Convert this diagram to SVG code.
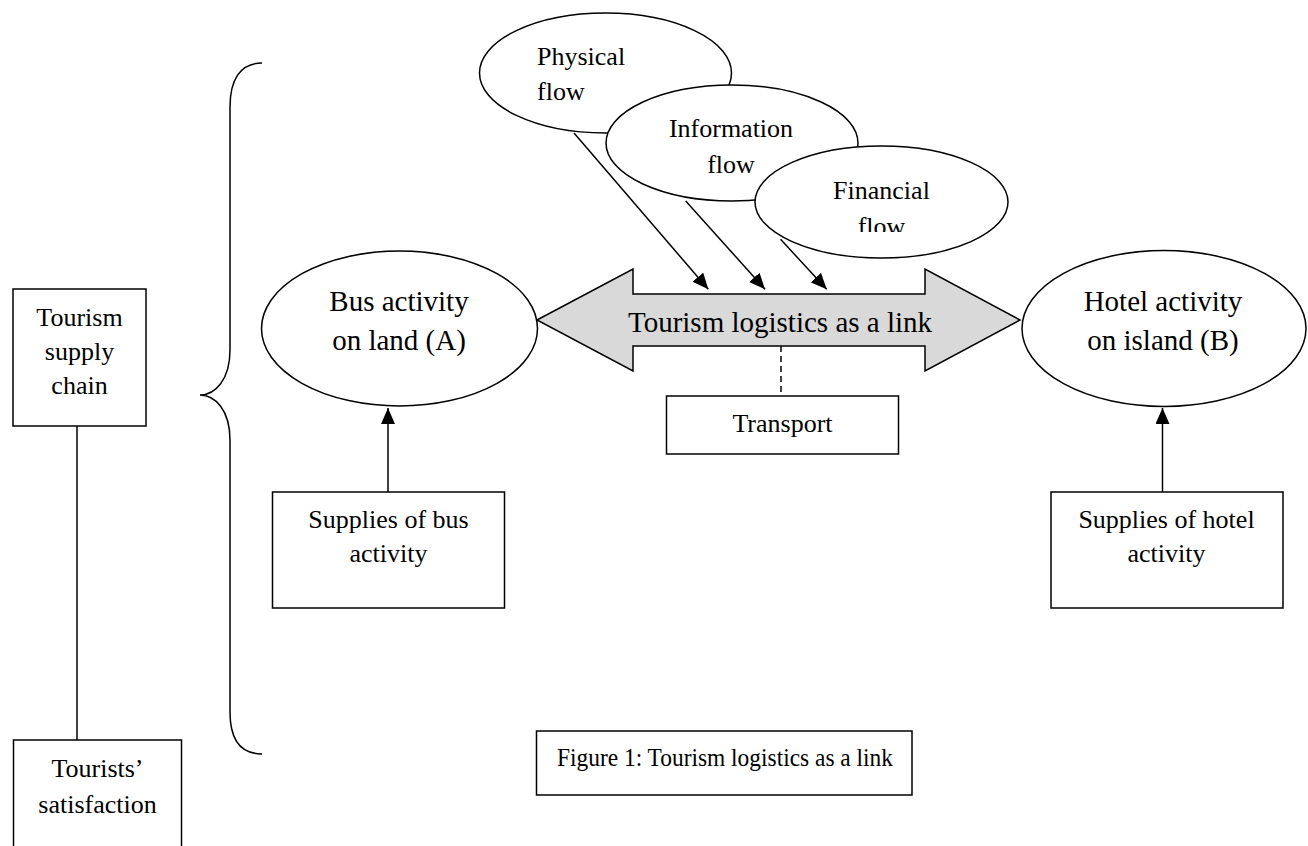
<svg xmlns="http://www.w3.org/2000/svg" width="1308" height="846" viewBox="0 0 1308 846">
<style>
.s{fill:#fff;stroke:#000;stroke-width:1.5}
.t{font-family:"Liberation Serif","Times New Roman",serif;fill:#000}
.c{text-anchor:middle}
.ln{stroke:#000;stroke-width:1.5;fill:none}
</style>
<defs>
<marker id="ah" markerUnits="userSpaceOnUse" markerWidth="16" markerHeight="14" refX="16" refY="7" orient="auto">
<path d="M0,0 L16,7 L0,14 z" fill="#000"/>
</marker>
<clipPath id="finclip"><rect x="700" y="140" width="320" height="92"/></clipPath>
</defs>
<rect width="1308" height="846" fill="#fff"/>

<g id="brace">
<path class="ln" d="M262 63 C240 63 230 80 230 107 L230 350 C230 380 215 395 200 395 C215 395 230 410 230 440 L230 712 C230 740 240 754 262 754"/>
</g>

<g id="supply-chain">
<rect class="s" x="13" y="289" width="133" height="137"/>
<text class="t c" font-size="26" x="79.5" y="326">Tourism</text>
<text class="t c" font-size="26" x="79.5" y="360">supply</text>
<text class="t c" font-size="26" x="79.5" y="394">chain</text>
</g>

<g id="satisfaction">
<rect class="s" x="13.5" y="740" width="168" height="120"/>
<text class="t c" font-size="26" x="97.5" y="777">Tourists’</text>
<text class="t c" font-size="26" x="97.5" y="813">satisfaction</text>
</g>

<g id="physical">
<ellipse class="s" cx="605.5" cy="73" rx="126" ry="60"/>
<text class="t" font-size="26" x="537" y="65">Physical</text>
<text class="t" font-size="26" x="537" y="100">flow</text>
</g>
<g id="information">
<ellipse class="s" cx="732" cy="143" rx="126" ry="58"/>
<text class="t c" font-size="26" x="731" y="137">Information</text>
<text class="t c" font-size="26" x="731" y="173">flow</text>
</g>
<g id="financial">
<ellipse class="s" cx="881.5" cy="202" rx="126.5" ry="56"/>
<text class="t c" font-size="26" x="881.5" y="199">Financial</text>
<text class="t c" font-size="26" x="881.5" y="235" clip-path="url(#finclip)">flow</text>
</g>

<g id="bus">
<ellipse class="s" cx="399.5" cy="328.5" rx="138" ry="77.5"/>
<text class="t c" font-size="29" x="399" y="311">Bus activity</text>
<text class="t c" font-size="29" x="399" y="350">on land (A)</text>
</g>
<g id="hotel">
<ellipse class="s" cx="1164" cy="328.5" rx="142" ry="78"/>
<text class="t c" font-size="29" x="1163" y="311">Hotel activity</text>
<text class="t c" font-size="29" x="1163" y="350">on island (B)</text>
</g>

<g id="link">
<path d="M537 320 L633 269 L633 294 L925 294 L925 269 L1020 320 L925 371 L925 346 L633 346 L633 371 Z" fill="#d9d9d9" stroke="#000" stroke-width="1.5" stroke-linejoin="miter"/>
<text class="t c" font-size="29" x="780" y="332">Tourism logistics as a link</text>
</g>

<g id="transport">
<rect class="s" x="666.5" y="396" width="232" height="58"/>
<text class="t c" font-size="26" x="782.5" y="432">Transport</text>
</g>

<g id="supplies-bus">
<rect class="s" x="272.5" y="492" width="232" height="116"/>
<text class="t c" font-size="26" x="388.5" y="528">Supplies of bus</text>
<text class="t c" font-size="26" x="388.5" y="562">activity</text>
</g>
<g id="supplies-hotel">
<rect class="s" x="1051" y="492" width="232" height="116"/>
<text class="t c" font-size="26" x="1166.5" y="528">Supplies of hotel</text>
<text class="t c" font-size="26" x="1166.5" y="562">activity</text>
</g>

<g id="caption">
<rect class="s" x="536.5" y="731" width="375.5" height="64"/>
<text class="t" font-size="26" x="557" y="766" textLength="336" lengthAdjust="spacingAndGlyphs">Figure 1: Tourism logistics as a link</text>
</g>

<g id="connectors">
<line class="ln" x1="77" y1="426" x2="77" y2="740"/>
<line class="ln" x1="574" y1="133" x2="708.3" y2="289.3" marker-end="url(#ah)"/>
<line class="ln" x1="685.7" y1="201" x2="765" y2="289.3" marker-end="url(#ah)"/>
<line class="ln" x1="780.6" y1="239.3" x2="826.7" y2="289.3" marker-end="url(#ah)"/>
<line class="ln" x1="781" y1="346" x2="781" y2="396" stroke-dasharray="6,4"/>
<line class="ln" x1="388" y1="492" x2="388" y2="408" marker-end="url(#ah)"/>
<line class="ln" x1="1162.5" y1="492" x2="1162.5" y2="408" marker-end="url(#ah)"/>
</g>
</svg>
